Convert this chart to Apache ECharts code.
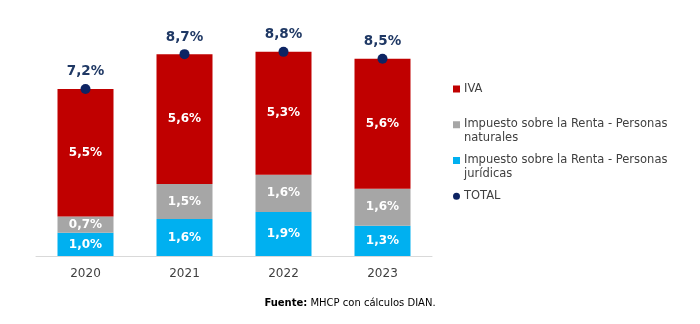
<!DOCTYPE html>
<html><head><meta charset="utf-8">
<script src="https://cdn.jsdelivr.net/npm/echarts@6/dist/echarts.min.js"></script>
<style>html,body{margin:0;padding:0;background:#fff}#c{width:700px;height:324px}</style>
</head><body><div id="c"></div>
<script>
var categories = ['2020', '2021', '2022', '2023'];
var juridicas = [1.0, 1.6, 1.9, 1.3];
var naturales = [0.7, 1.5, 1.6, 1.6];
var iva = [5.5, 5.6, 5.3, 5.6];
var total = [7.2, 8.7, 8.8, 8.5];
var seriesNames = ['IVA', 'Impuesto sobre la Renta - Personas naturales', 'Impuesto sobre la Renta - Personas jurídicas', 'TOTAL'];
var legendText = ['IVA\n ', 'Impuesto sobre la Renta - Personas\nnaturales', 'Impuesto sobre la Renta - Personas\njurídicas', 'TOTAL\n '];

var FONT = 'DejaVu Sans';
function pct(v) { return v.toFixed(1).replace('.', ',') + '%'; }
var segLabel = { show: true, position: 'inside', color: '#fff', fontWeight: 'bold', fontSize: 12, fontFamily: FONT,
  formatter: function (p) { return pct(p.value); } };
var sqIcon = 'path://M0,0h7v7h-7zM0,19.9h0.01v0.01h-0.01z';
var dotIcon = 'path://M3.5,0A3.5,3.5,0,1,1,3.5,7A3.5,3.5,0,1,1,3.5,0zM0,19.9h0.01v0.01h-0.01z';

var chart = echarts.init(document.getElementById('c'), null, { renderer: 'canvas' });
chart.setOption({
  animation: false,
  textStyle: { fontFamily: FONT },
  grid: { left: 36, right: 268, top: 24, bottom: 68 },
  legend: {
    orient: 'vertical', left: 448, top: 77, itemGap: 9,
    itemWidth: 7, itemHeight: 20,
    data: [
      { name: seriesNames[0], icon: sqIcon },
      { name: seriesNames[1], icon: sqIcon },
      { name: seriesNames[2], icon: sqIcon },
      { name: seriesNames[3], icon: dotIcon }
    ],
    formatter: function (n) { return legendText[seriesNames.indexOf(n)]; },
    textStyle: { fontFamily: FONT, fontSize: 11.5, color: '#404040', lineHeight: 13.4, padding: [0, 0, 0, -1] }
  },
  xAxis: {
    type: 'category', data: categories,
    axisLine: { lineStyle: { color: '#D9D9D9', width: 1 } },
    axisTick: { show: false },
    axisLabel: { color: '#404040', fontSize: 12, fontFamily: FONT, margin: 12 }
  },
  yAxis: { type: 'value', min: 0, max: 10, show: false, splitLine: { show: false } },
  series: [
    { name: seriesNames[2], type: 'bar', stack: 't', data: juridicas, barWidth: 56,
      itemStyle: { color: '#00B0F0' }, label: segLabel },
    { name: seriesNames[1], type: 'bar', stack: 't', data: naturales, barWidth: 56,
      itemStyle: { color: '#A6A6A6' }, label: segLabel },
    { name: seriesNames[0], type: 'bar', stack: 't', data: iva, barWidth: 56,
      itemStyle: { color: '#C00000' }, label: segLabel },
    { name: seriesNames[3], type: 'scatter', data: total, symbol: 'circle', symbolSize: 10, z: 5,
      itemStyle: { color: '#0D2463', opacity: 1 },
      label: { show: true, position: 'top', distance: 5, color: '#1F3864', fontWeight: 'bold', fontSize: 13.5, fontFamily: FONT, opacity: 1,
        formatter: function (p) { return pct(p.value); } } }
  ],
  graphic: [{
    type: 'text', left: 'center', top: 298,
    style: {
      text: '{b|Fuente:} MHCP con cálculos DIAN.',
      fontFamily: FONT, fontSize: 10, fill: '#000',
      rich: { b: { fontWeight: 'bold', fontFamily: FONT, fontSize: 10, fill: '#000' } }
    }
  }]
});
</script></body></html>
